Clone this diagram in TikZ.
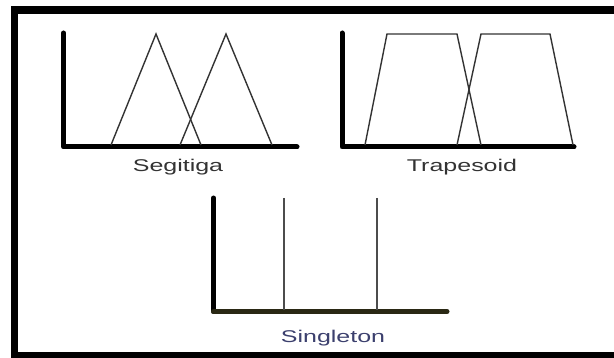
\documentclass[tikz,border=0pt]{standalone}
\usepackage{fontspec}
\setmainfont{Liberation Sans}
\begin{document}
\begin{tikzpicture}[x=1pt,y=-1pt,
  axis/.style={line width=5pt,line cap=round,line join=round,black},
  curve/.style={line width=1.4pt,draw=black!80,line join=miter},
  spike/.style={line width=1.3pt,draw=black!70},
  lbl/.style={font=\fontsize{17}{20}\selectfont,xscale=1.47,inner sep=0pt,anchor=base}]
\useasboundingbox (0,0) rectangle (614,358);
\fill[white] (0,0) rectangle (614,358);
\begin{scope}
\clip (0,0) rectangle (614,358);
\draw[line width=7.5pt] (14.5,10) rectangle (640,356);
\end{scope}
% Segitiga
\draw[axis] (63.5,33) -- (63.5,147) -- (297,147);
\draw[curve] (111,145) -- (156,34) -- (201,145);
\draw[curve] (180,145) -- (226,34) -- (272,145);
\node[lbl,text=black!80] (seg) at (178,172) {Segitiga};
% Trapesoid
\draw[axis] (342,33) -- (342,147) -- (574,147);
\draw[curve] (365,145) -- (387,34) -- (457,34) -- (481,145);
\draw[curve] (457,145) -- (481,34) -- (550,34) -- (573,145);
\node[lbl,text=black!80] (tra) at (462,172) {Trapesoid};
% Singleton
\draw[axis] (213.5,198) -- (213.5,311.5);
\draw[axis,draw={rgb,255:red,42;green,40;blue,20}] (213.5,311.5) -- (447,311.5);
\draw[spike] (284,198) -- (284,310);
\draw[spike] (377,198) -- (377,310);
\node[lbl,text={rgb,255:red,60;green,64;blue,110}] (sgl) at (333,343) {Singleton};
\end{tikzpicture}
\end{document}
